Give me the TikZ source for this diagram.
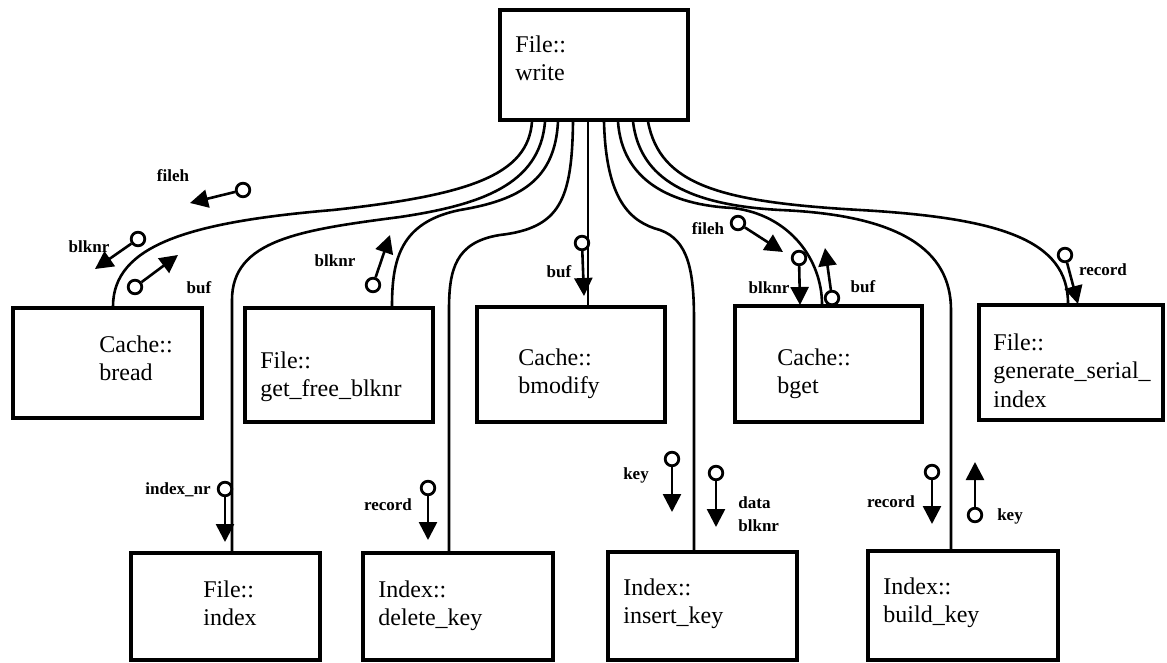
\documentclass[tikz,border=0pt]{standalone}
\usepackage{fontspec}
\setmainfont{Liberation Serif}
\usetikzlibrary{arrows.meta,fit,calc}
\begin{document}
\begin{tikzpicture}[x=0.5pt,y=-0.5pt,
  box/.style={draw, line width=1.6pt, inner sep=0pt},
  txt/.style={anchor=north west, inner sep=0pt, align=left, font=\fontsize{12}{14.3}\selectfont},
  lbl/.style={inner sep=0pt, align=left, font=\bfseries\fontsize{8.5}{11.5}\selectfont},
  conn/.style={line width=1.3pt},
  port/.style={circle, draw, line width=1.4pt, minimum size=6.8pt, inner sep=0pt},
  flow/.style={line width=1.3pt, -{Triangle[length=9pt,width=9pt]}}
]
\useasboundingbox (0,0) rectangle (1167,663);
% boxes
\node[box, fit={(500,10) (688,120)}] (write) {};
\node[box, fit={(13,308) (202,418)}] (bread) {};
\node[box, fit={(245,308) (433,422)}] (gfb) {};
\node[box, fit={(477,307) (665,422)}] (bmod) {};
\node[box, fit={(735,306) (922,422)}] (bget) {};
\node[box, fit={(979,305) (1163,420)}] (gsi) {};
\node[box, fit={(131,553) (320,660)}] (findex) {};
\node[box, fit={(363,553) (553,660)}] (delk) {};
\node[box, fit={(608,552) (797,660)}] (insk) {};
\node[box, fit={(868,551) (1058,660)}] (bldk) {};
% texts
\node[txt] (writeT) at (515,35) {File::\\write};
\node[txt] (breadT) at (99,335) {Cache::\\bread};
\node[txt] (gfbT) at (260,351) {File::\\get\_free\_blknr};
\node[txt] (bmodT) at (518,348) {Cache::\\bmodify};
\node[txt] (bgetT) at (777,348) {Cache::\\bget};
\node[txt] (gsiT) at (993,333) {File::\\generate\_serial\_\\index};
\node[txt] (findexT) at (203,580) {File::\\index};
\node[txt] (delkT) at (378,580) {Index::\\delete\_key};
\node[txt] (inskT) at (623,578) {Index::\\insert\_key};
\node[txt] (bldkT) at (883,577) {Index::\\build\_key};
% ports on write
\coordinate (w1) at (532,0 |- write.south);
\coordinate (w2) at (545,0 |- write.south);
\coordinate (w3) at (558,0 |- write.south);
\coordinate (w4) at (573,0 |- write.south);
\coordinate (w5) at (588,0 |- write.south);
\coordinate (w6) at (604,0 |- write.south);
\coordinate (w7) at (618,0 |- write.south);
\coordinate (w8) at (633,0 |- write.south);
\coordinate (w9) at (648,0 |- write.south);
% ports on callees
\coordinate (e1) at (113,0 |- bread.north);
\coordinate (e2) at (232,0 |- findex.north);
\coordinate (e3) at (392,0 |- gfb.north);
\coordinate (e4) at (449,0 |- delk.north);
\coordinate (e5) at (588,0 |- bmod.north);
\coordinate (e6) at (694,0 |- insk.north);
\coordinate (e7) at (822,0 |- bget.north);
\coordinate (e8) at (951,0 |- bldk.north);
\coordinate (e9) at (1068,0 |- gsi.north);
% connectors
\draw[conn] (w1) .. controls (528,175) and (470,195) .. (333,210)
   .. controls (190,222) and (113,245) .. (e1);
\draw[conn] (w2) .. controls (540,185) and (480,205) .. (400,217)
   .. controls (300,230) and (232,240) .. (232,300) -- (e2);
\draw[conn] (w3) .. controls (555,180) and (520,200) .. (460,210)
   .. controls (400,222) and (392,260) .. (e3);
\draw[conn] (w4) .. controls (572,200) and (560,228) .. (500,235)
   .. controls (455,242) and (449,270) .. (449,310) -- (e4);
\draw[conn] (w5) -- (e5);
\draw[conn] (w6) .. controls (606,200) and (630,222) .. (660,230)
   .. controls (688,240) and (694,270) .. (694,320) -- (e6);
\draw[conn] (w7) .. controls (622,180) and (670,205) .. (733,208)
   .. controls (790,215) and (822,260) .. (e7);
\draw[conn] (w8) .. controls (640,180) and (690,205) .. (780,210)
   .. controls (900,215) and (951,250) .. (951,310) -- (e8);
\draw[conn] (w9) .. controls (660,185) and (720,202) .. (860,210)
   .. controls (1000,218) and (1068,240) .. (e9);
% data flows
\node[port] (c1) at (243,190) {}; \coordinate (t1) at (190,203);
\draw[flow] (c1) -- (t1);
\node[lbl] (l1) at (173,176) {fileh};
\node[port] (c2) at (138,239) {}; \coordinate (t2) at (95,269);
\draw[flow] (c2) -- (t2);
\node[lbl] (l2) at (89,247) {blknr};
\node[port] (c3) at (135,287) {}; \coordinate (t3) at (178,255);
\draw[flow] (c3) -- (t3);
\node[lbl] (l3) at (199,288) {buf};
\node[port] (c4) at (373,285) {}; \coordinate (t4) at (390,235);
\draw[flow] (c4) -- (t4);
\node[lbl] (l4) at (335,261) {blknr};
\node[port] (c5) at (582,243) {}; \coordinate (t5) at (584,296);
\draw[flow] (c5) -- (t5);
\node[lbl] (l5) at (559,272) {buf};
\node[port] (c6) at (738,223) {}; \coordinate (t6) at (783,252);
\draw[flow] (c6) -- (t6);
\node[lbl] (l6) at (708,229) {fileh};
\node[port] (c7) at (799,258) {}; \coordinate (t7) at (800,305);
\draw[flow] (c7) -- (t7);
\node[lbl] (l7) at (769,288) {blknr};
\node[port] (c8) at (832,298) {}; \coordinate (t8) at (825,248);
\draw[flow] (c8) -- (t8);
\node[lbl] (l8) at (863,287) {buf};
\node[port] (c9) at (1065,255) {}; \coordinate (t9) at (1078,304);
\draw[flow] (c9) -- (t9);
\node[lbl] (l9) at (1103,270) {record};
\node[port] (c10) at (225,489) {}; \coordinate (t10) at (225,542);
\draw[flow] (c10) -- (t10);
\node[lbl] (l10) at (178,490) {index\_nr};
\node[port] (c11) at (428,488) {}; \coordinate (t11) at (428,540);
\draw[flow] (c11) -- (t11);
\node[lbl] (l11) at (388,505) {record};
\node[port] (c12) at (672,459) {}; \coordinate (t12) at (672,512);
\draw[flow] (c12) -- (t12);
\node[lbl] (l12) at (636,475) {key};
\node[port] (c13) at (716,473) {}; \coordinate (t13) at (716,527);
\draw[flow] (c13) -- (t13);
\node[lbl, anchor=north west] (l13) at (738,496) {data\\blknr};
\node[port] (c14) at (932,472) {}; \coordinate (t14) at (932,524);
\draw[flow] (c14) -- (t14);
\node[lbl] (l14) at (891,502) {record};
\node[port] (c15) at (975,515) {}; \coordinate (t15) at (975,462);
\draw[flow] (c15) -- (t15);
\node[lbl] (l15) at (1010,516) {key};
\end{tikzpicture}
\end{document}
